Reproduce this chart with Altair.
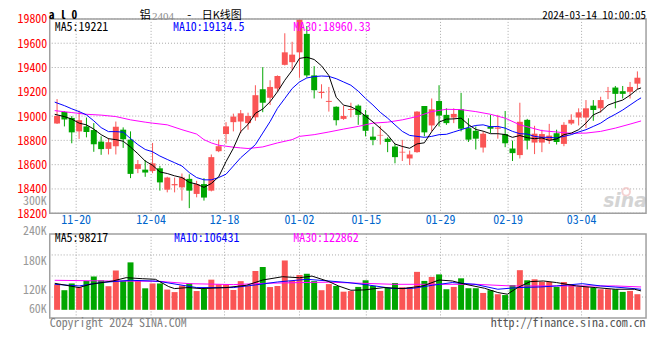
import altair as alt
import pandas as pd

# ---------------- data ----------------
opens = [18939, 19034, 18985, 18874, 18915, 18885, 18790, 18730, 18752, 18888,
         18806, 18565, 18559, 18548, 18570, 18394, 18430, 18413, 18483, 18359,
         18440, 18386, 18711, 18852, 18950, 18955, 18942, 18990, 19221, 19151,
         19227, 19422, 19444, 19525, 19677, 19335, 19190, 19117, 19077, 18977,
         19050, 19086, 19010, 18831, 18840, 18814, 18749, 18700, 18651, 18703,
         19083, 18923, 19124, 19010, 18988, 19056, 18901, 18879, 18741, 18915,
         18896, 18852, 18733, 18679, 18969, 18782, 18782, 18798, 18858, 18771,
         18939, 18988, 18988, 19086, 19064, 19200, 19235, 19205, 19200, 19267]
highs = [19140, 19040, 19000, 19045, 18988, 18942, 18833, 18820, 18955, 18907,
         18874, 18638, 18638, 18779, 18590, 18500, 18494, 18527, 18521, 18467,
         18489, 18684, 18806, 18950, 19020, 19050, 19028, 19254, 19403, 19295,
         19335, 19682, 19612, 19800, 19742, 19411, 19262, 19240, 19080, 19085,
         19110, 19096, 19050, 18912, 18920, 18825, 18771, 18804, 18716, 19040,
         19083, 19145, 19254, 19064, 19064, 19191, 18982, 18915, 18874, 19010,
         19010, 19042, 18798, 19110, 18977, 18920, 18888, 18936, 18888, 18950,
         19015, 19064, 19132, 19132, 19159, 19240, 19248, 19248, 19281, 19368]
lows = [18935, 18915, 18776, 18812, 18825, 18706, 18681, 18684, 18684, 18738,
        18489, 18530, 18500, 18530, 18386, 18372, 18372, 18304, 18242, 18331,
        18304, 18380, 18703, 18774, 18874, 18860, 18888, 18961, 19032, 19091,
        19200, 19417, 19376, 19315, 19318, 19145, 19145, 19037, 18923, 18969,
        18990, 18928, 18833, 18760, 18765, 18703, 18611, 18630, 18597, 18698,
        18833, 18874, 18915, 18928, 18942, 18874, 18787, 18725, 18700, 18860,
        18814, 18744, 18630, 18651, 18725, 18687, 18703, 18771, 18766, 18752,
        18928, 18923, 18901, 18961, 19029, 19140, 19064, 19145, 19145, 19221]
closes = [19001, 18972, 18866, 18966, 18869, 18768, 18728, 18785, 18912, 18809,
          18524, 18605, 18535, 18611, 18454, 18494, 18440, 18494, 18386, 18440,
          18329, 18662, 18752, 18915, 18996, 19023, 19001, 19172, 19110, 19240,
          19330, 19525, 19506, 19796, 19335, 19213, 19200, 19125, 18966, 19001,
          19058, 19010, 18879, 18804, 18845, 18787, 18662, 18706, 18684, 19037,
          18866, 19056, 19004, 18942, 19018, 18896, 18806, 18814, 18855, 18896,
          18906, 18776, 18695, 18953, 18798, 18855, 18852, 18839, 18787, 18928,
          18969, 19031, 19064, 19050, 19132, 19205, 19183, 19183, 19240, 19316]
# volume in thousands
vol_k = [120, 106.5, 122.5, 113.5, 128.5, 139, 130, 116, 153.5, 129,
         172.5, 129, 111, 122.5, 122.5, 108, 102, 117.5, 122.5, 104.5,
         110, 131.5, 120.5, 120.5, 107, 128, 116.5, 152, 161.5, 114,
         116.5, 177, 128.5, 142.5, 145.5, 128, 106.5, 121, 116.6, 103,
         104.5, 114.3, 130, 116.7, 104.9, 112, 123.5, 113.5, 113.5, 150,
         128.5, 138, 144, 108.8, 114.3, 134.7, 111.2, 111.2, 100, 106.5,
         97, 95, 118.6, 154, 130, 132.4, 126.5, 126, 114.3, 126,
         120.5, 114.2, 114.2, 112.7, 108.8, 108.8, 108.8, 102.5, 104.8, 97]

# price moving averages as drawn
ma5_x = [-0.32] + list(range(80)) + [79.5]
ma5_v = [19015,
         19010, 18996, 18975, 18942, 18928, 18893, 18847, 18814, 18806, 18793,
         18745, 18690, 18630, 18595, 18540, 18527, 18508, 18494, 18454, 18440,
         18413, 18445, 18500, 18625, 18735, 18872, 18932, 19023, 19058, 19118,
         19200, 19295, 19376, 19475, 19485, 19466, 19414, 19334, 19155, 19090,
         19077, 19045, 19000, 18952, 18900, 18845, 18770, 18750, 18735, 18771,
         18780, 18872, 18950, 18975, 18977, 18983, 18930, 18890, 18876, 18855,
         18855, 18848, 18825, 18840, 18822, 18814, 18820, 18800, 18812, 18847,
         18860, 18888, 18942, 19010, 19037, 19091, 19113, 19132, 19172, 19221,
         19232]
ma10_x = [-0.32] + list(range(80)) + [79.5]
ma10_v = [19115,
          19108, 19086, 19060, 19037, 19010, 18961, 18905, 18872, 18872, 18868,
          18815, 18765, 18725, 18706, 18671, 18643, 18616, 18589, 18535, 18494,
          18475, 18475, 18494, 18521, 18589, 18657, 18710, 18765, 18860, 18955,
          19064, 19145, 19227, 19281, 19314, 19325, 19330, 19327, 19308, 19281,
          19254, 19205, 19145, 19091, 19031, 18983, 18928, 18874, 18841, 18833,
          18825, 18833, 18847, 18850, 18869, 18888, 18907, 18923, 18928, 18912,
          18915, 18901, 18874, 18855, 18852, 18833, 18825, 18825, 18820, 18833,
          18847, 18869, 18888, 18915, 18942, 18983, 19015, 19050, 19091, 19132,
          19150]
ma30_x = [-0.32, 2, 4, 6, 8, 10, 12, 13, 15, 17, 19, 20, 21, 22, 23, 24, 25, 26,
          28, 30, 32, 33, 35, 37, 39, 41, 43, 45, 47, 49, 51, 53, 55, 57, 59, 61,
          63, 65, 66, 68, 70, 72, 74, 76, 78, 79.5]
ma30_v = [19045, 19029, 19015, 19008, 18996, 18969, 18950, 18942, 18928, 18888,
          18852, 18806, 18779, 18760, 18752, 18744, 18738, 18733, 18746, 18779,
          18806, 18833, 18847, 18869, 18893, 18915, 18942, 18950, 18969, 18996,
          19037, 19056, 19053, 19037, 19015, 18983, 18928, 18896, 18880, 18869,
          18858, 18860, 18874, 18901, 18934, 18960]

# volume moving averages as drawn (thousands)
vma5_x = [-0.32, 3, 4.5, 7.6, 9.4, 11.6, 13.4, 15.2, 16, 17.8, 19.6, 23, 25.8, 28,
          30.7, 33, 34.7, 37, 38.3, 40, 41.8, 44.5, 47.1, 49.8, 52, 53.8, 55.6,
          58.2, 60, 61.3, 62.7, 64.4, 66.2, 68, 70.7, 73.3, 76, 78.6, 79.5]
vma5_v = [122.9, 112.7, 120.5, 128.4, 136.2, 133.8, 132.3, 115, 110.3, 112.7,
          110.3, 112.7, 118.2, 130.7, 138.5, 136, 140, 127, 116.6, 106.4,
          107.2, 112.7, 110.3, 116.6, 130.7, 128.4, 120.5, 111.1, 101, 97,
          112.7, 126.8, 128.4, 124.6, 116.6, 112.7, 108.8, 108.8, 104.8]
vma10_x = [-0.32, 3, 6, 10, 13, 14, 19, 24, 27, 30, 34, 37, 39.6, 42.3, 45.8, 48.5,
           51.1, 53.8, 56.9, 60, 62.7, 65.8, 68, 71.5, 74, 76.9, 79.5]
vma10_v = [120.5, 116.6, 124.6, 130, 128.4, 127, 112.7, 112.7, 119, 126,
           132.3, 128.4, 124.6, 119, 110.3, 111.1, 118.2, 124.6, 120.5, 108.8,
           112.7, 114.2, 116.6, 122, 116.6, 112.7, 108.8]
vma30_x = [-0.32, 7, 14, 15, 18, 24, 28.5, 33, 37, 45.8, 57, 61.8, 68, 76, 79.5]
vma30_v = [130, 128.4, 127.6, 126, 122, 119.8, 122.9, 124.6, 125.5, 120.5,
           120.5, 116.6, 116.6, 116.6, 114.2]

date_pos = [2.6, 12.8, 22.8, 33.0, 42.1, 52.2, 61.4, 71.4]
date_labels = ["11-20", "12-04", "12-18", "01-02", "01-15", "01-29", "02-19", "03-04"]
price_ticks = [18200, 18400, 18600, 18800, 19000, 19200, 19400, 19600, 19800]
vol_labels = ["300K", "240K", "180K", "120K", "60K"]
vol_grid = [190.1, 140.2, 90.3]
VOL_BASE = 60

# ---------------- styling / layout ----------------
RED = "#fa5555"
GREEN = "#00a600"
BLUE_TXT = "#0066cc"
GRID = "#a8a8a8"
FRAME = "#a0a0a0"
MONO = "Noto Sans Mono CJK SC, Liberation Mono, monospace"
CJK = "Noto Sans CJK SC"

W, H = 600, 301
P_TOP, P_BOT = 0, 195.5
V_TOP, V_BOT = 216.3, 301
vol_label_y = [183, 213.2, 243.7, 272.8, 292.2]
HEAD_Y = -8.6  # top of header texts (just inside the drawable area)
LEG_Y = 8

n = len(closes)
candles = pd.DataFrame({
    "i": list(range(n)), "open": opens, "high": highs, "low": lows,
    "close": closes, "vol": vol_k,
    "dir": ["up" if c >= o else "down" for o, c in zip(opens, closes)],
})
candles["vbase"] = VOL_BASE

xs = alt.Scale(domain=[-0.32, 79.5], nice=False, zero=False)
ps = alt.Scale(domain=[18200, 19800], range=[P_BOT, P_TOP], nice=False, zero=False)
vs = alt.Scale(domain=[40.4, 240], range=[V_BOT, V_TOP], nice=False, zero=False)
color = alt.Color("dir:N", scale=alt.Scale(domain=["up", "down"], range=[RED, GREEN]), legend=None)


def X(f="i"):
    return alt.X(f"{f}:Q", scale=xs, axis=None)


def one():
    return alt.Chart(pd.DataFrame({"k": [0]}))


def txt(text, x, y, col="#000", size=12, font=MONO, align="left", weight="normal",
        baseline="middle", style="normal"):
    return alt.Chart(pd.DataFrame({"t": [text]})).mark_text(
        align=align, baseline=baseline, font=font, fontSize=size, color=col,
        fontWeight=weight, fontStyle=style
    ).encode(x=alt.value(x), y=alt.value(y), text="t:N")


layers = []

# price grid (horizontal) + axis labels
layers.append(
    alt.Chart(pd.DataFrame({"p": price_ticks})).mark_rule(
        color=GRID, strokeDash=[1, 2], strokeWidth=1
    ).encode(y=alt.Y("p:Q", scale=ps, axis=alt.Axis(
        values=price_ticks, grid=False, domain=False, ticks=False, title=None,
        labelColor="#ff0000", labelFont=MONO, labelFontSize=12, labelPadding=3,
        labelOverlap=False, labelFlush=False, format="d")))
)
# vertical grid in both panels
dates = pd.DataFrame({"pos": date_pos, "lab": date_labels})
layers.append(alt.Chart(dates).mark_rule(color=GRID, strokeDash=[1, 2]).encode(
    x=X("pos"), y=alt.value(P_TOP), y2=alt.value(P_BOT)))
layers.append(alt.Chart(dates).mark_rule(color=GRID, strokeDash=[1, 2]).encode(
    x=X("pos"), y=alt.value(V_TOP), y2=alt.value(V_BOT)))
# volume horizontal grid
layers.append(alt.Chart(pd.DataFrame({"v": vol_grid})).mark_rule(
    color=GRID, strokeDash=[1, 2]).encode(y=alt.Y("v:Q", scale=vs, axis=None)))

# watermark
layers.append(one().mark_point(shape="circle", filled=False, color="#f2c0c0", size=60,
                               strokeWidth=2).encode(x=alt.value(580), y=alt.value(174)))
layers.append(txt("sina", 601, 189, col="#d4d4d4", size=19, font="DejaVu Sans",
                  align="right", weight="bold", baseline="alphabetic", style="italic"))

# candles
base = alt.Chart(candles)
layers.append(base.mark_rule(strokeWidth=1).encode(
    x=X(), y=alt.Y("low:Q", scale=ps, axis=None), y2="high:Q", color=color))
layers.append(base.mark_bar(size=6).encode(
    x=X(), y=alt.Y("open:Q", scale=ps, axis=None), y2="close:Q", color=color))

# price MAs
for xv, yv, c in [(ma30_x, ma30_v, "#ff00ff"), (ma10_x, ma10_v, "#0000ff"), (ma5_x, ma5_v, "#000000")]:
    layers.append(alt.Chart(pd.DataFrame({"x": xv, "v": yv})).mark_line(
        color=c, strokeWidth=1).encode(x=X("x"), y=alt.Y("v:Q", scale=ps, axis=None)))

# volume bars
layers.append(base.mark_bar(size=6).encode(
    x=X(), y=alt.Y("vol:Q", scale=vs, axis=None), y2="vbase:Q", color=color))
for xv, yv, c in [(vma30_x, vma30_v, "#ff00ff"), (vma10_x, vma10_v, "#0000ff"), (vma5_x, vma5_v, "#000000")]:
    layers.append(alt.Chart(pd.DataFrame({"x": xv, "v": yv})).mark_line(
        color=c, strokeWidth=1).encode(x=X("x"), y=alt.Y("v:Q", scale=vs, axis=None)))

# frames
for top, bot in [(P_TOP, P_BOT), (V_TOP, V_BOT)]:
    layers.append(one().mark_rect(fillOpacity=0, stroke=FRAME, strokeWidth=1.5).encode(
        x=alt.value(0), x2=alt.value(W), y=alt.value(top), y2=alt.value(bot)))

# date labels
layers.append(alt.Chart(dates).mark_text(
    align="center", baseline="middle", font=MONO, fontSize=12, color=BLUE_TXT
).encode(x=X("pos"), y=alt.value(202.7), text="lab:N"))

# volume axis labels
layers.append(alt.Chart(pd.DataFrame({"t": vol_labels, "py": vol_label_y})).mark_text(
    align="right", baseline="middle", font=MONO, fontSize=12, color="#999999"
).encode(x=alt.value(-3), y=alt.Y("py:Q", scale=None), text="t:N"))

# header texts
layers += [
    txt("a l 0", -1, HEAD_Y, size=11.5, weight="bold", baseline="top"),
    txt("铝", 90.5, HEAD_Y, size=11, font=CJK, baseline="top"),
    txt("2404", 103, HEAD_Y + 0.5, col="#8c8c8c", size=11, font="Liberation Serif", baseline="top"),
    txt("-", 137.5, HEAD_Y, size=11, baseline="top"),
    txt("日K线图", 153, HEAD_Y, size=11, font=CJK, baseline="top"),
    txt("2024-03-14 10:00:05", 600, HEAD_Y, size=11, align="right", baseline="top"),
    txt("MA5:19221", 5, LEG_Y),
    txt("MA10:19134.5", 124, LEG_Y, col="#0000ff"),
    txt("MA30:18960.33", 245, LEG_Y, col="#ff00ff"),
    txt("MA5:98217", 5, 220.3),
    txt("MA10:106431", 125, 220.3, col="#0000ff"),
    txt("MA30:122862", 245, 220.3, col="#ff00ff"),
    txt("Copyright 2024 SINA.COM", 0, 305.5, col="#808080"),
    txt("http://finance.sina.com.cn", 599.5, 305.5, col="#555555", align="right"),
]

chart = alt.layer(*layers).resolve_scale(y="independent").properties(
    width=W, height=H,
    autosize=alt.AutoSizeParams(type="none"),
    padding={"left": 42, "top": 10, "right": 6, "bottom": 14},
    background="white",
).configure_view(stroke=None)

chart.save("out.html", embed_options={"renderer": "svg", "actions": False})
